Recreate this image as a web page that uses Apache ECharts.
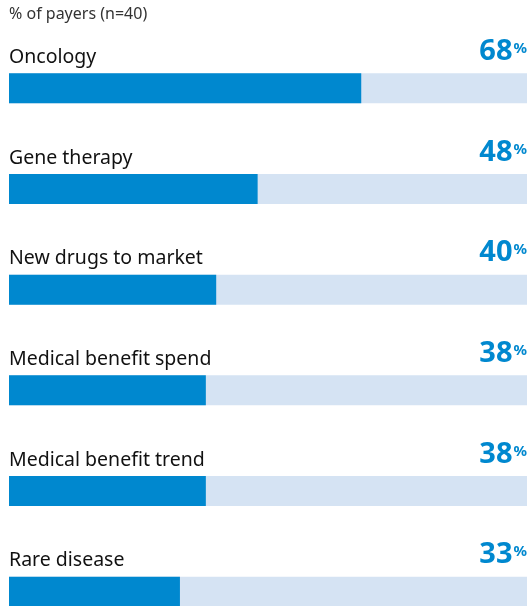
<!DOCTYPE html>
<html>
<head>
<meta charset="utf-8">
<style>
  html, body { margin: 0; padding: 0; background: #fff; width: 527px; height: 606px; overflow: hidden; }
  /* the drawing area runs past the bottom edge so the last bar is cut off there */
  #chart { width: 527px; height: 642px; }
</style>
<script src="https://cdn.jsdelivr.net/npm/echarts@6/dist/echarts.min.js"></script>
</head>
<body>
<div id="chart"></div>
<script>
// Share of payers naming each area
const categories = ['Oncology', 'Gene therapy', 'New drugs to market', 'Medical benefit spend', 'Medical benefit trend', 'Rare disease'];
const shares = [68, 48, 40, 38, 38, 33];
const fullScale = categories.map(() => 100);

const FILL = '#0088cf';
const TRACK = '#d5e3f3';
const FONT = '"Noto Sans", "Open Sans", sans-serif';

const chart = echarts.init(document.getElementById('chart'), null, { renderer: 'canvas' });

chart.setOption({
  animation: false,
  title: {
    text: '% of payers (n=40)',
    left: 9,
    top: 6,
    padding: 0,
    textStyle: { fontFamily: FONT, fontSize: 16, fontWeight: 'normal', color: '#333' }
  },
  grid: { left: 9, right: 0, top: 38, bottom: 0 },
  xAxis: { type: 'value', min: 0, max: 100, show: false },
  yAxis: {
    type: 'category',
    data: categories,
    inverse: true,
    show: false
  },
  series: [
    {
      // background track with category name above it
      type: 'bar',
      data: fullScale,
      barWidth: 30,
      silent: true,
      z: 1,
      itemStyle: { color: TRACK },
      label: {
        show: true,
        position: [0, -6],
        align: 'left',
        verticalAlign: 'bottom',
        formatter: p => categories[p.dataIndex],
        fontFamily: FONT,
        fontSize: 19.5,
        color: '#111'
      }
    },
    {
      // filled share
      type: 'bar',
      data: shares,
      barWidth: 30,
      barGap: '-100%',
      silent: true,
      z: 2,
      itemStyle: { color: FILL }
    },
    {
      // transparent full-width bar carrying the value label at the right edge
      type: 'bar',
      data: fullScale,
      barWidth: 30,
      barGap: '-100%',
      silent: true,
      z: 3,
      itemStyle: { color: 'rgba(0,0,0,0)' },
      label: {
        show: true,
        position: ['100%', -7],
        align: 'right',
        verticalAlign: 'bottom',
        formatter: p => '{v|' + shares[p.dataIndex] + '}{p|%}',
        rich: {
          v: { fontFamily: FONT, fontSize: 29, fontWeight: 'bold', color: FILL },
          p: { fontFamily: FONT, fontSize: 15, fontWeight: 'bold', color: FILL, verticalAlign: 'top', padding: [4, 0, 0, 1] }
        }
      }
    }
  ]
});
</script>
</body>
</html>
